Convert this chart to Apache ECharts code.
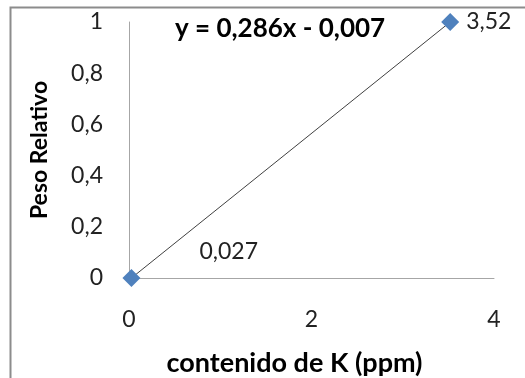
<!DOCTYPE html>
<html>
<head>
<meta charset="utf-8">
<script src="https://cdn.jsdelivr.net/npm/echarts@6/dist/echarts.min.js"></script>
<style>
  html, body { margin: 0; padding: 0; background: #ffffff; }
  #chart { width: 525px; height: 378px; }
</style>
</head>
<body>
<div id="chart"></div>
<script>
// Calibration points: potassium content (ppm) vs. relative weight
const contenidoK = [0.027, 3.52];
const pesoRelativo = [0, 1];
const etiquetas = ['0,027', '3,52'];
const ecuacion = 'y = 0,286x - 0,007';

const FONT = 'Lato, "Open Sans", sans-serif';
const fmt = v => String(v).replace('.', ',');

const puntos = contenidoK.map((x, i) => ({
  value: [x, pesoRelativo[i]],
  label: i === 0
    ? { show: true, formatter: etiquetas[i], position: 'right', offset: [54, -26] }
    : { show: true, formatter: etiquetas[i], position: 'right', distance: 7 }
}));

const chart = echarts.init(document.getElementById('chart'), null, { renderer: 'canvas' });
chart.setOption({
  backgroundColor: '#ffffff',
  animation: false,
  grid: { left: 129, top: 22, right: 31, bottom: 100, containLabel: false, outerBoundsMode: 'none' },
  xAxis: {
    type: 'value', min: 0, max: 4, interval: 2,
    name: 'contenido de K (ppm)', nameLocation: 'middle', nameGap: 72,
    nameTextStyle: {
      fontFamily: FONT, fontSize: 27, fontWeight: 'bold', color: '#000',
      padding: [0, 34, 0, 0]
    },
    axisLine: { lineStyle: { color: '#a6a6a6', width: 1 } },
    axisTick: { show: false },
    splitLine: { show: false },
    axisLabel: { fontFamily: FONT, fontSize: 23, color: '#222', margin: 30, formatter: fmt }
  },
  yAxis: {
    type: 'value', min: 0, max: 1, interval: 0.2,
    name: 'Peso Relativo', nameLocation: 'middle', nameGap: 78, nameRotate: 90,
    nameTextStyle: { fontFamily: FONT, fontSize: 23, fontWeight: 'bold', color: '#000' },
    axisLine: { show: true, lineStyle: { color: '#a6a6a6', width: 1 } },
    axisTick: { show: false },
    splitLine: { show: false },
    axisLabel: { fontFamily: FONT, fontSize: 23, color: '#222', margin: 26, formatter: fmt }
  },
  series: [{
    type: 'line',
    data: puntos,
    symbol: 'diamond',
    symbolSize: 18,
    showAllSymbol: true,
    itemStyle: { color: '#4f81bd' },
    lineStyle: { color: '#404040', width: 1 },
    label: { fontFamily: FONT, fontSize: 23, color: '#222' },
    z: 3
  }],
  graphic: [
    {
      type: 'rect', left: 8, top: 5, silent: true,
      shape: { width: 540, height: 400 },
      style: { fill: 'none', stroke: '#8c8c8c', lineWidth: 2 }
    },
    {
      type: 'text', left: 175, top: 16, silent: true,
      style: { text: ecuacion, fontFamily: FONT, fontSize: 26, fontWeight: 'bold', fill: '#000' }
    }
  ]
});
</script>
</body>
</html>
